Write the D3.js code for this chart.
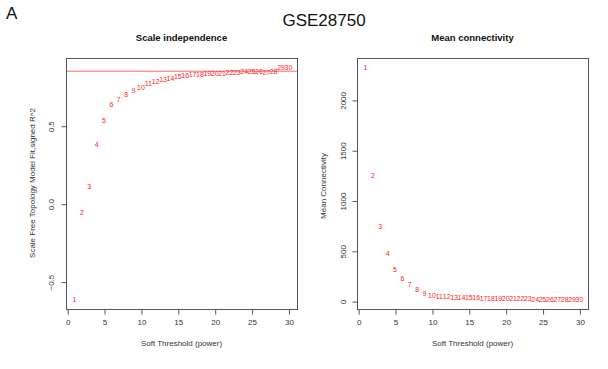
<!DOCTYPE html>
<html><head><meta charset="utf-8">
<script src="https://cdn.jsdelivr.net/npm/d3@7"></script>
<style>
body{margin:0;background:#fff}
svg{display:block}
text{font-family:"Liberation Sans",Arial,Helvetica,sans-serif}
</style>
</head><body>
<svg id="chart" width="608" height="369"></svg>
<script>
// ---- data ----
const powers = [1,2,3,4,5,6,7,8,9,10,11,12,13,14,15,16,17,18,19,20,21,22,23,24,25,26,27,28,29,30];
const scaleFitR2 = [-0.616,-0.06,0.109,0.382,0.532,0.633,0.665,0.700,0.725,0.747,0.773,0.783,0.794,0.805,0.815,0.820,0.828,0.830,0.833,0.835,0.837,0.840,0.842,0.845,0.848,0.845,0.840,0.848,0.872,0.875];
const meanConnectivity = [2324,1244,737,470,314,220,160,110,80,60,50,44,40,37,34,31,29,27,25,24,23,22,21,20,19,18,17,16,15,14];
const r2Cutoff = 0.85;
const xTickValues = [0,5,10,15,20,25,30];
const leftYTicks = [-0.5,0,0.5];
const rightYTicks = [0,500,1000,1500,2000];
const figureLabel = "A";
const mainTitle = "GSE28750";
const leftTitle = "Scale independence";
const rightTitle = "Mean connectivity";
const xLabel = "Soft Threshold (power)";
const leftYLabel = "Scale Free Topology Model Fit,signed R^2";
const rightYLabel = "Mean Connectivity";

// ---- drawing ----
const svg = d3.select("#chart");
const ink = "#333";
const boxTop = 58, boxBottom = 309;

svg.append("text").attr("x", 6).attr("y", 18.5).attr("font-size", 17).attr("fill", "#111").text(figureLabel);
svg.append("text").attr("x", 324).attr("y", 25.5).attr("font-size", 17).attr("fill", "#111")
  .attr("text-anchor", "middle").text(mainTitle);

function padded(vals) {
  const [a, b] = d3.extent(vals);
  const p = (b - a) * 0.04;
  return [a - p, b + p];
}

function panel(opt) {
  const g = svg.append("g");
  const x = d3.scaleLinear().domain(padded(powers)).range([opt.left, opt.right]);
  const y = d3.scaleLinear().domain(padded(opt.values)).range([boxBottom, boxTop]);

  // box
  g.append("rect").attr("x", opt.left + 0.5).attr("y", boxTop + 0.5)
    .attr("width", opt.right - opt.left).attr("height", boxBottom - boxTop)
    .attr("fill", "none").attr("stroke", "#555").attr("stroke-width", 1);

  // x axis
  const xa = g.append("g").attr("transform", `translate(0.5,${boxBottom + 0.5})`)
    .call(d3.axisBottom(x).tickValues(xTickValues).tickSize(5).tickPadding(5).tickSizeOuter(0));
  xa.select(".domain").attr("d", `M${x(xTickValues[0])},0H${x(xTickValues[xTickValues.length-1])}`).attr("stroke", "#555");
  xa.selectAll(".tick line").attr("stroke", "#555");
  xa.selectAll(".tick text").attr("font-size", 8).attr("fill", ink).attr("font-family", '"Liberation Sans",Arial,sans-serif');

  // y axis
  const ya = g.append("g").attr("transform", `translate(${opt.left + 0.5},0.5)`)
    .call(d3.axisLeft(y).tickValues(opt.yTicks).tickSize(5).tickSizeOuter(0).tickFormat(opt.fmt));
  ya.select(".domain").attr("d", `M0,${y(opt.yTicks[0])}V${y(opt.yTicks[opt.yTicks.length-1])}`).attr("stroke", "#555");
  ya.selectAll(".tick line").attr("stroke", "#555");
  ya.selectAll(".tick text").attr("font-size", 8).attr("fill", ink)
    .attr("font-family", '"Liberation Sans",Arial,sans-serif')
    .attr("text-anchor", "middle").attr("x", null).attr("dy", null)
    .attr("transform", `translate(${-opt.tickLabelOffset},0) rotate(-90)`)
    .attr("dy", "0.35em");

  // titles
  const cx = (opt.left + opt.right) / 2;
  g.append("text").attr("x", cx).attr("y", 40.5).attr("text-anchor", "middle")
    .attr("font-size", 9.5).attr("font-weight", "bold").attr("fill", "#111").text(opt.title);
  g.append("text").attr("x", cx).attr("y", 346).attr("text-anchor", "middle")
    .attr("font-size", 8).attr("fill", ink).text(xLabel);
  g.append("text").attr("transform", `translate(${opt.yLabelX},${opt.yLabelY}) rotate(-90)`)
    .attr("text-anchor", "middle").attr("dy", "0.35em")
    .attr("font-size", 8).attr("fill", ink).text(opt.yLabel);

  if (opt.hline !== undefined) {
    g.append("line").attr("x1", opt.left + 1).attr("x2", opt.right)
      .attr("y1", y(opt.hline)).attr("y2", y(opt.hline))
      .attr("stroke", "#f33").attr("stroke-opacity", 0.75).attr("stroke-width", 1);
  }

  g.selectAll("text.pt").data(powers).join("text").attr("class", "pt")
    .attr("x", d => x(d)).attr("y", (d, i) => y(opt.values[i]))
    .attr("dy", "0.35em").attr("text-anchor", "middle")
    .attr("font-size", 7).attr("fill", "#ff1a1a").text(d => d);
}

panel({left: 66, right: 297, values: scaleFitR2, yTicks: leftYTicks,
  fmt: d3.format(".1f"), title: leftTitle, yLabel: leftYLabel,
  yLabelX: 32, yLabelY: 183, tickLabelOffset: 15, hline: r2Cutoff});
panel({left: 357, right: 588, values: meanConnectivity, yTicks: rightYTicks,
  fmt: d3.format("d"), title: rightTitle, yLabel: rightYLabel,
  yLabelX: 323, yLabelY: 186, tickLabelOffset: 14});
</script>
</body></html>
